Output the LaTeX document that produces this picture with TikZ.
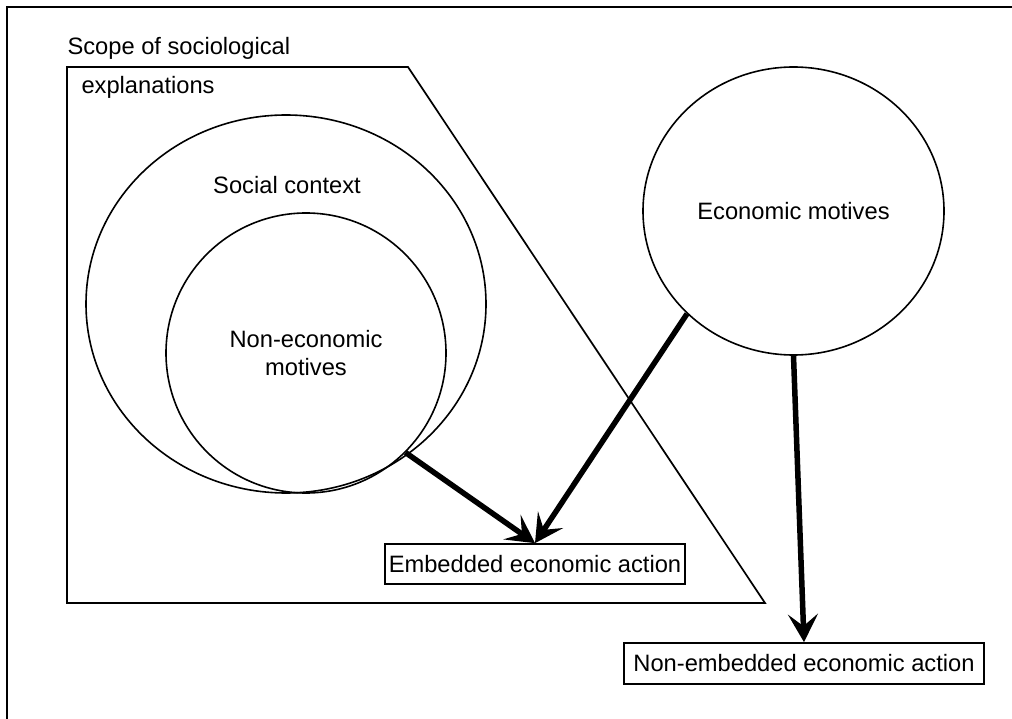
\documentclass[tikz,border=0pt]{standalone}
\usepackage{fontspec}
\setmainfont{Liberation Sans}
\usetikzlibrary{arrows.meta,shapes.geometric}

\begin{document}
\begin{tikzpicture}[x=1pt,y=-1pt,
    txt/.style={font=\fontsize{23.7}{28}\selectfont},
    ring/.style={draw,line width=1.6pt,ellipse,inner sep=0pt,txt,align=center},
    box/.style={draw,line width=1.7pt,inner sep=0pt,txt},
    flow/.style={line width=5.5pt,-{Stealth[length=28pt,width=30pt,inset=12pt]}}]
    \useasboundingbox (0,0) rectangle (1012,719);
    \draw [line width=2.2pt] (7,719) -- (7,7) -- (1012,7);
    \draw [line width=1.7pt] (67,67) -- (408,67) -- (765,603) -- (67,603) -- cycle;
    \node [txt,anchor=base west] (sl1) at (64,55) {Scope of sociological};
    \node [txt,anchor=base west] (sl2) at (78,94) {explanations};
    \node [ring,minimum width=400pt,minimum height=378pt] (sc) at (286,304) {};
    \node [txt,anchor=base] (scl) at (287,194) {Social context};
    \node [ring,minimum width=280pt,minimum height=280pt] (nm) at (306,353) {Non-economic\\motives};
    \node [ring,minimum width=301pt,minimum height=288pt] (em) at (793.5,211) {Economic motives};
    \node [box,minimum width=300pt,minimum height=40pt] (ea) at (535,564) {Embedded economic action};
    \node [box,minimum width=360pt,minimum height=41pt] (na) at (804,663.5) {Non-embedded economic action};
    \draw [flow] (nm.-45) -- (ea.north);
    \draw [flow] (em.224) -- (ea.north);
    \draw [flow] (em.south) -- (na.north);
\end{tikzpicture}
\end{document}
